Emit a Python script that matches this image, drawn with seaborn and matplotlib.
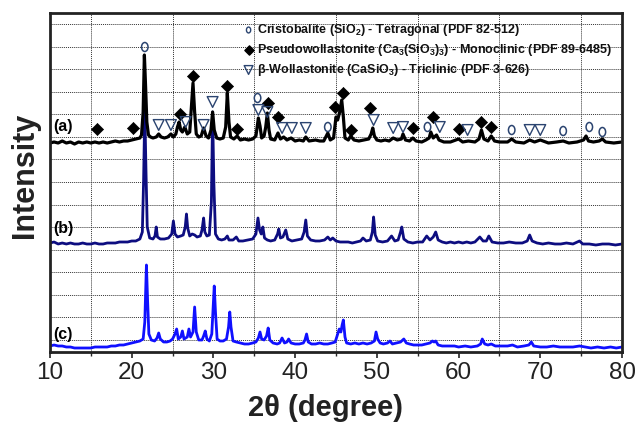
import numpy as np
import pandas as pd
import matplotlib
matplotlib.use("Agg")
import matplotlib.pyplot as plt
import seaborn as sns
from matplotlib.path import Path
from matplotlib.transforms import Affine2D

# ---------------- data ----------------
# pattern (a): black
a_x = [10.0, 10.5, 11, 11.5, 12, 12.5, 13, 13.5, 14, 14.5, 15, 15.5, 16, 16.5, 17, 17.5, 18, 18.5, 19, 19.5,
       20, 20.5, 21.0, 21.2, 21.4, 21.55, 21.7, 21.85, 22.05, 22.3, 22.6, 23.0, 23.3, 23.6, 24.0, 24.4, 24.8, 25.1,
       25.4, 25.6, 25.8, 26.0, 26.2, 26.5, 26.8, 27.1, 27.3, 27.5, 27.7, 27.9, 28.2, 28.5, 28.8, 29.1, 29.4, 29.7,
       29.9, 30.1, 30.4, 30.8, 31.2, 31.5, 31.7, 31.9, 32.1, 32.5, 32.9, 33.3, 33.8, 34.3, 34.8, 35.2, 35.5, 35.7,
       35.9, 36.2, 36.4, 36.6, 36.8, 37.0, 37.5, 37.9, 38.2, 38.6, 39.0, 39.5, 40.0, 40.5, 41.0, 41.3, 41.7, 42.5,
       43.0, 43.5, 44.0, 44.3, 44.7, 45.0, 45.2, 45.45, 45.7, 45.9, 46.1, 46.5, 46.8, 47.2, 47.8, 48.4, 49.0, 49.3,
       49.5, 49.7, 50.0, 50.5, 51.0, 51.5, 52.0, 52.5, 53.0, 53.2, 53.5, 54.0, 54.4, 54.8, 55.5, 56.0, 56.4, 56.6,
       56.9, 57.3, 57.6, 58.2, 59.0, 60.0, 60.5, 61.2, 62.0, 62.5, 62.8, 63.1, 63.6, 64.0, 64.4, 65.0, 66.0, 66.5,
       67.0, 68.0, 68.7, 69.3, 70.0, 71.0, 72.0, 72.8, 73.5, 74.5, 75.3, 75.6, 75.9, 76.5, 77.2, 77.6, 78.0, 79.0,
       80.0]
a_y = [209, 210, 209, 211, 209, 210, 208, 210, 209, 210, 209, 210, 209, 210, 209, 210, 211, 210, 211, 211,
       212, 213, 214, 217, 240, 297, 265, 230, 217, 215, 214, 215, 218, 215, 214, 215, 218, 215,
       218, 225, 230, 222, 220, 225, 218, 220, 245, 269, 240, 218, 215, 216, 224, 216, 214, 222,
       240, 222, 214, 213, 214, 225, 259, 230, 215, 213, 216, 212, 213, 212, 213, 216, 234, 226,
       214, 216, 225, 239, 222, 213, 212, 219, 213, 215, 212, 214, 211, 212, 211, 215, 211, 212,
       211, 211, 219, 212, 214, 235, 232, 240, 252, 235, 214, 212, 216, 212, 211, 212, 213, 218,
       224, 216, 212, 211, 212, 211, 214, 212, 213, 218, 212, 211, 214, 211, 210, 212, 214, 220,
       214, 217, 212, 210, 210, 213, 210, 211, 210, 213, 222, 213, 211, 216, 211, 210, 210, 213,
       210, 209, 212, 210, 212, 209, 210, 211, 209, 210, 212, 216, 211, 210, 211, 213, 210, 209,
       210]

# pattern (b): navy
b_x = [10, 10.5, 11, 11.5, 12, 12.5, 13, 13.5, 14, 14.5, 15, 15.5, 16, 16.5, 17, 17.5, 18, 18.5, 19, 19.5,
       20, 20.5, 21.0, 21.3, 21.45, 21.6, 21.75, 21.9, 22.2, 22.6, 22.85, 23.0, 23.15, 23.5, 24.0, 24.5, 24.9,
       25.1, 25.3, 25.6, 26.0, 26.3, 26.55, 26.7, 26.85, 27.1, 27.4, 27.7, 28.0, 28.4, 28.6, 28.8, 28.95, 29.2,
       29.5, 29.75, 29.9, 30.05, 30.25, 30.6, 31.0, 31.4, 31.7, 31.9, 32.4, 32.8, 33.1, 33.6, 34.2, 34.8, 35.2,
       35.45, 35.65, 35.85, 36.05, 36.25, 36.6, 37.0, 37.5, 37.85, 38.0, 38.2, 38.5, 38.85, 39.1, 39.6, 40.2,
       40.8, 41.1, 41.3, 41.5, 41.9, 42.5, 43.0, 43.6, 44.0, 44.3, 44.6, 45.0, 45.5, 46.0, 46.5, 47.0, 47.5,
       48.0, 48.3, 48.7, 49.2, 49.45, 49.6, 49.8, 50.1, 50.7, 51.3, 51.8, 52.2, 52.6, 52.9, 53.05, 53.3, 53.8,
       54.4, 55.0, 55.6, 56.1, 56.5, 56.9, 57.2, 57.5, 58.0, 58.5, 59.0, 59.5, 60.0, 60.5, 61.0, 61.5, 62.0,
       62.6, 63.0, 63.4, 63.7, 64.1, 64.8, 65.5, 66.2, 67.0, 67.8, 68.4, 68.7, 69.0, 69.6, 70.3, 71.0, 71.8,
       72.5, 73.2, 74.0, 74.8, 75.2, 76.0, 76.8, 77.6, 78.4, 79.2, 80.0]
b_y = [109, 110, 108, 109, 108, 109, 108, 108, 109, 108, 108, 109, 108, 108, 109, 109, 109, 110, 110, 110,
       111, 111, 113, 120, 170, 242, 180, 125, 114, 113, 116, 125, 115, 113, 113, 114, 118,
       131, 118, 115, 116, 117, 125, 138, 124, 116, 118, 117, 115, 116, 122, 134, 120, 116,
       117, 150, 240, 170, 118, 113, 112, 113, 116, 112, 112, 115, 111, 111, 112, 113, 118,
       134, 122, 118, 125, 114, 112, 111, 112, 118, 123, 114, 115, 122, 113, 111, 112,
       113, 120, 132, 116, 112, 111, 111, 112, 115, 112, 114, 111, 110, 110, 110, 109, 110,
       111, 114, 111, 112, 120, 135, 117, 111, 110, 111, 116, 111, 112, 120, 125, 113, 110,
       109, 110, 110, 116, 112, 115, 120, 112, 110, 109, 110, 109, 110, 109, 110, 109, 110,
       115, 111, 111, 116, 110, 109, 109, 110, 109, 109, 111, 117, 111, 109, 108, 109, 108,
       108, 109, 108, 111, 108, 108, 107, 108, 108, 107, 108]

# pattern (c): blue
c_x = [10, 10.5, 11, 11.5, 12, 12.5, 13, 13.5, 14, 14.5, 15, 15.5, 16, 16.5, 17, 17.5, 18, 18.5, 19, 19.5,
       20, 20.5, 21.0, 21.4, 21.6, 21.8, 21.95, 22.1, 22.4, 22.8, 23.1, 23.3, 23.5, 23.9, 24.3, 24.7, 25.0,
       25.3, 25.5, 25.7, 26.0, 26.2, 26.4, 26.8, 27.0, 27.2, 27.5, 27.7, 27.9, 28.2, 28.6, 28.8, 29.0, 29.2,
       29.5, 29.8, 30.0, 30.1, 30.25, 30.45, 30.8, 31.2, 31.6, 31.85, 32.0, 32.15, 32.4, 32.8, 33.3, 33.8, 34.3,
       34.8, 35.2, 35.5, 35.7, 35.9, 36.2, 36.5, 36.7, 36.9, 37.3, 37.8, 38.1, 38.4, 38.7, 39.0, 39.2, 39.5,
       40.0, 40.5, 41.0, 41.2, 41.4, 41.6, 42.0, 42.5, 43.0, 43.5, 44.0, 44.5, 44.9, 45.2, 45.4, 45.6, 45.75,
       45.9, 46.1, 46.3, 46.8, 47.3, 47.8, 48.3, 48.8, 49.3, 49.7, 49.9, 50.1, 50.4, 50.8, 51.3, 51.6, 51.9,
       52.4, 52.9, 53.3, 53.6, 54.0, 54.5, 55.0, 55.5, 56.0, 56.5, 56.8, 57.0, 57.2, 57.5, 58.0, 58.7, 59.5,
       60.0, 60.8, 61.5, 62.3, 62.7, 62.9, 63.2, 63.6, 64.0, 64.5, 65.2, 66.0, 66.6, 67.2, 68.0, 68.6, 68.9,
       69.2, 70.0, 70.8, 71.6, 72.4, 73.2, 74.0, 74.8, 75.5, 76.2, 77.0, 77.8, 78.6, 79.3, 80.0]
c_y = [6, 7, 6, 6, 5, 5, 4, 4, 4, 4, 4, 5, 5, 5, 5, 6, 6, 7, 7, 8,
       9, 10, 11, 13, 30, 87, 50, 18, 12, 11, 14, 19, 13, 10, 10, 11, 13,
       18, 23, 13, 15, 21, 13, 15, 23, 15, 20, 45, 20, 12, 12, 16, 21, 13,
       11, 18, 50, 66, 40, 13, 11, 11, 13, 25, 40, 25, 11, 10, 9, 8, 8,
       9, 10, 14, 20, 13, 12, 16, 24, 12, 9, 8, 9, 14, 9, 10, 13, 9,
       8, 8, 9, 12, 18, 10, 8, 8, 9, 8, 8, 9, 10, 18, 23, 20, 27,
       32, 15, 9, 8, 9, 8, 9, 8, 9, 11, 20, 13, 9, 8, 9, 11, 8,
       9, 10, 13, 9, 8, 7, 7, 7, 8, 9, 11, 10, 11, 7, 6, 6, 6,
       5, 6, 5, 6, 8, 13, 8, 7, 8, 6, 6, 6, 7, 5, 6, 7, 10,
       6, 5, 5, 6, 5, 5, 5, 6, 5, 4, 5, 4, 5, 4, 5]

# phase markers on pattern (a)
cristobalite_x = [21.6, 35.4, 44.0, 56.2, 66.5, 72.8, 76.0, 77.6]
cristobalite_y = [305, 254, 225, 225, 222, 221, 225, 220]
pseudo_x = [15.7, 20.2, 25.9, 27.5, 31.7, 32.9, 36.7, 37.9, 44.9, 45.8, 46.8, 49.2, 54.4, 56.9, 60.0, 62.8, 64.0]
pseudo_y = [223, 224, 238, 276, 266, 223, 249, 235, 245, 259, 222, 244, 224, 235, 223, 230, 225]
wollast_x = [23.3, 24.8, 26.6, 28.8, 29.9, 35.5, 36.6, 38.4, 39.6, 41.3, 49.6, 52.0, 53.2, 57.7, 61.1, 68.7, 70.0]
wollast_y = [227, 227, 230, 227, 250, 242, 240, 224, 224, 224, 232, 224, 225, 225, 222, 222, 222]

legend_labels = [r"Cristobalite (SiO$_\mathbf{2}$) - Tetragonal (PDF 82-512)",
                 r"Pseudowollastonite (Ca$_\mathbf{3}$(SiO$_\mathbf{3}$)$_\mathbf{3}$) - Monoclinic (PDF 89-6485)",
                 r"$\mathbf{\beta}$-Wollastonite (CaSiO$_\mathbf{3}$) - Triclinic (PDF 3-626)"]
pattern_labels = ["(a)", "(b)", "(c)"]
xticks = [10, 20, 30, 40, 50, 60, 70, 80]
xlabel = "2θ (degree)"
ylabel = "Intensity"

# ---------------- style ----------------
sns.set_style("ticks")
plt.rcParams["font.family"] = ["Liberation Sans", "DejaVu Sans"]
plt.rcParams["mathtext.fontset"] = "custom"
plt.rcParams["mathtext.rm"] = "Liberation Sans:bold"
plt.rcParams["mathtext.bf"] = "Liberation Sans:bold"
plt.rcParams["mathtext.it"] = "Liberation Sans:bold"

fig = plt.figure(figsize=(6.36, 4.23), dpi=100)
ax = fig.add_axes([50 / 636, 1 - 352 / 423, 572 / 636, 339 / 423])

col_a, col_b, col_c = "#000000", "#0d0d80", "#1010ff"
dfa = pd.DataFrame({"x": a_x, "y": a_y})
dfb = pd.DataFrame({"x": b_x, "y": b_y})
dfc = pd.DataFrame({"x": c_x, "y": c_y})
sns.lineplot(data=dfc, x="x", y="y", sort=False, estimator=None, color=col_c, lw=2.0, ax=ax)
sns.lineplot(data=dfb, x="x", y="y", sort=False, estimator=None, color=col_b, lw=2.0, ax=ax)
sns.lineplot(data=dfa, x="x", y="y", sort=False, estimator=None, color=col_a, lw=2.3, ax=ax)

ell = Path.unit_circle().transformed(Affine2D().scale(0.72, 1.0))
mk_col = "#2b4470"
sns.scatterplot(x=cristobalite_x, y=cristobalite_y, marker=ell, s=42, color="none",
                edgecolor=mk_col, linewidth=1.1, ax=ax, zorder=5)
sns.scatterplot(x=pseudo_x, y=pseudo_y, marker="D", s=38, color="black",
                edgecolor="black", linewidth=0.5, ax=ax, zorder=5)
sns.scatterplot(x=wollast_x, y=wollast_y, marker="v", s=60, color="none",
                edgecolor=mk_col, linewidth=1.0, ax=ax, zorder=5)

# legend (manual, as in the reference)
leg_y = [322, 302, 282]
ax.scatter([34.3], [leg_y[0]], marker=ell, s=18, facecolor="none", edgecolor=mk_col, lw=1.0, zorder=6)
ax.scatter([34.3], [leg_y[1]], marker="D", s=22, color="black", zorder=6)
ax.scatter([34.3], [leg_y[2]], marker="v", s=40, facecolor="none", edgecolor=mk_col, lw=1.0, zorder=6)
for lab, yy in zip(legend_labels, leg_y):
    ax.text(35.3, yy, lab, fontsize=9, fontweight="bold", ha="left", va="center", color="#111111")

for lab, yy in zip(pattern_labels, [226, 123, 18]):
    ax.text(10.35, yy, lab, fontsize=11.5, fontweight="bold", ha="left", va="center", color="black")

ax.set_xlim(10, 80)
ax.set_ylim(0, 339)
ax.set_xticks(xticks)
ax.set_xticks(np.arange(15, 80, 10), minor=True)
ax.set_yticks(np.arange(12, 339, 22.57))
ax.tick_params(axis="y", length=0, labelleft=False)
ax.tick_params(axis="x", which="major", direction="out", length=4, width=1.2, labelsize=17.5, pad=3, colors="#222222")
ax.tick_params(axis="x", which="minor", direction="out", length=3, width=1.0)
ax.grid(which="minor", axis="x", color="#333333", lw=0.7, ls=(0, (1, 1)))
ax.grid(which="major", axis="y", color="#333333", lw=0.7, ls=(0, (1, 1)))
ax.grid(which="major", axis="x", visible=False)
for sp in ax.spines.values():
    sp.set_visible(True)
    sp.set_linewidth(2.0)
    sp.set_color("#222222")

ax.set_xlabel(xlabel, fontsize=21, fontweight="bold", color="#222222")
ax.xaxis.set_label_coords(0.4825, -0.125)
ax.set_ylabel(ylabel, fontsize=22, fontweight="bold", color="#222222")
ax.yaxis.set_label_coords(-0.018, 0.52)

fig.savefig("out.png", dpi=100)
